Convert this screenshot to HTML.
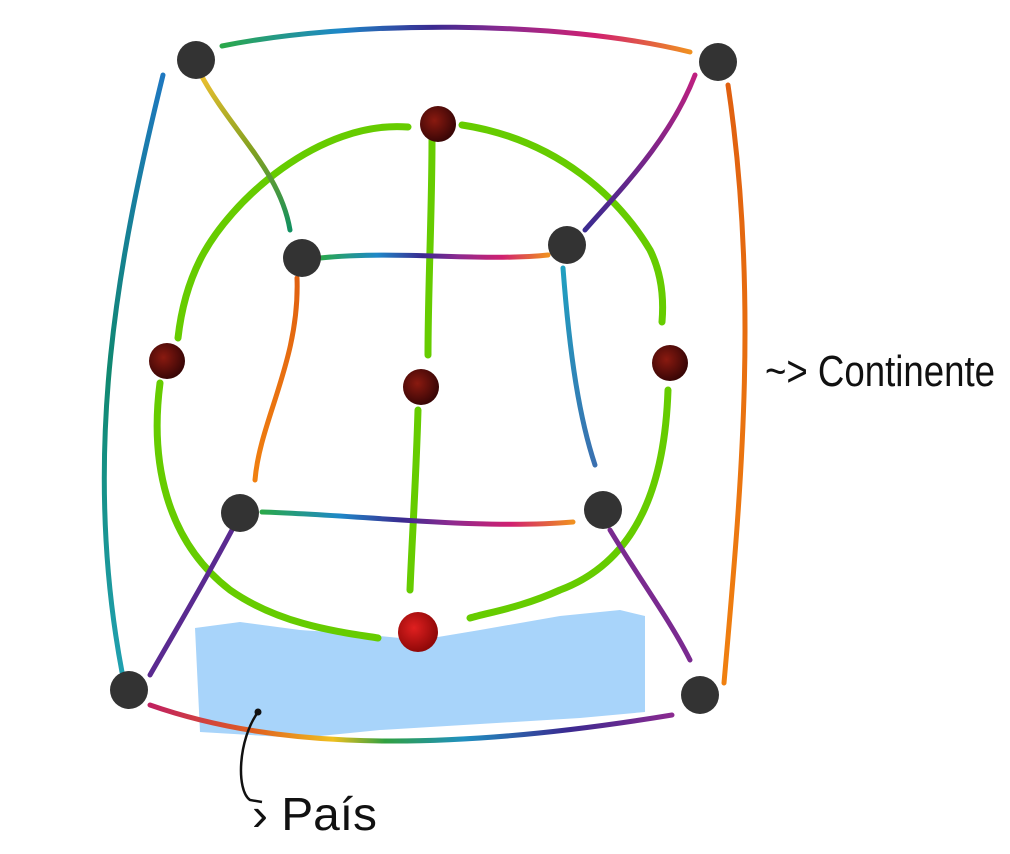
<!DOCTYPE html>
<html><head><meta charset="utf-8">
<style>
html,body{margin:0;padding:0;background:#fff;width:1010px;height:854px;overflow:hidden}
svg{display:block}
</style></head>
<body>
<svg id="s" width="1010" height="854" viewBox="0 0 1010 854" xmlns="http://www.w3.org/2000/svg">
<defs>
<linearGradient id="rb1" x1="0" x2="1" y1="0" y2="0">
<stop offset="0" stop-color="#2aa84a"/><stop offset="0.25" stop-color="#1e88c8"/><stop offset="0.45" stop-color="#3a2a90"/><stop offset="0.6" stop-color="#8a2a90"/><stop offset="0.8" stop-color="#d02070"/><stop offset="1" stop-color="#f09020"/></linearGradient>
<linearGradient id="rb2" x1="0" x2="1" y1="0" y2="0">
<stop offset="0" stop-color="#c02060"/><stop offset="0.2" stop-color="#e06020"/><stop offset="0.35" stop-color="#f0c020"/><stop offset="0.45" stop-color="#30a040"/><stop offset="0.6" stop-color="#2090c0"/><stop offset="0.8" stop-color="#3a2a90"/><stop offset="1" stop-color="#8a2a90"/></linearGradient>
<linearGradient id="rbv" x1="0" x2="0" y1="0" y2="1">
<stop offset="0" stop-color="#1e78c0"/><stop offset="0.5" stop-color="#108870"/><stop offset="1" stop-color="#20a0b0"/></linearGradient>
<linearGradient id="rbd1" x1="0" x2="0" y1="0" y2="1">
<stop offset="0" stop-color="#f0c030"/><stop offset="0.5" stop-color="#80a020"/><stop offset="1" stop-color="#109060"/></linearGradient>
<linearGradient id="rbo" x1="0" x2="0" y1="0" y2="1">
<stop offset="0" stop-color="#e06010"/><stop offset="1" stop-color="#f08010"/></linearGradient>
<linearGradient id="rbp" x1="0" x2="0" y1="0" y2="1">
<stop offset="0" stop-color="#c02080"/><stop offset="1" stop-color="#3a2a90"/></linearGradient>
<linearGradient id="rbb" x1="0" x2="0" y1="0" y2="1">
<stop offset="0" stop-color="#20a0c0"/><stop offset="1" stop-color="#3a70b0"/></linearGradient>
<radialGradient id="red" cx="0.4" cy="0.4" r="0.6"><stop offset="0" stop-color="#8a1a10"/><stop offset="1" stop-color="#3a0606"/></radialGradient>
<radialGradient id="red2" cx="0.4" cy="0.4" r="0.6"><stop offset="0" stop-color="#e02020"/><stop offset="1" stop-color="#900808"/></radialGradient>
</defs>
<path d="M195,628 L240,622 L300,630 L360,634 L420,640 L480,630 L560,616 L620,610 L645,616 L645,712 L580,718 L480,724 L380,730 L300,738 L200,732 Z" fill="#a8d4fa"/>
<g id="lines" fill="none" stroke-linecap="round"></g>
<g id="nodes"></g>
<path d="M258,712 C238,740 236,790 250,800 L262,802" fill="none" stroke="#111" stroke-width="2.5"/>
<circle cx="258" cy="712" r="3.5" fill="#111"/>
<text x="252" y="830" textLength="125" lengthAdjust="spacingAndGlyphs" font-family="Liberation Sans, sans-serif" font-size="46" fill="#111">› País</text>
<text x="765" y="386" textLength="230" lengthAdjust="spacingAndGlyphs" font-family="Liberation Sans, sans-serif" font-size="44" fill="#111">~&gt; Continente</text>
</svg>
<script>
const grayNodes=[[196,60],[718,62],[302,258],[567,245],[240,513],[603,510],[129,690],[700,695]];
const redNodes=[[438,124],[167,361],[670,363],[421,387]];
const greenPaths=["M408,127 C320,120 230,200 200,260 C185,290 180,320 178,338","M462,125 C560,140 620,200 650,250 C665,280 663,310 662,322","M160,383 C150,460 165,540 230,590 C280,625 340,632 378,638","M668,390 C665,480 640,560 560,590 C520,608 490,612 470,618","M432,140 C432,210 428,290 428,355","M418,410 C416,480 412,540 410,590"];
const colorPaths=[["M222,46 C350,20 560,20 690,52","url(#rb1)"],["M163,75 C120,250 80,450 122,672","url(#rbv)"],["M728,85 C760,300 740,500 724,683","url(#rbo)"],["M150,705 C250,740 400,760 672,715","url(#rb2)"],["M200,73 C230,130 280,170 290,230","url(#rbd1)"],["M695,75 C670,140 620,190 585,230","url(#rbp)"],["M232,530 C200,590 170,640 150,675","#5a2a90"],["M610,530 C640,580 670,620 690,660","#7a2a90"],["M320,258 C400,250 480,262 548,255","url(#rb1)"],["M297,278 C300,360 260,420 255,480","url(#rbo)"],["M563,268 C570,360 580,420 595,465","url(#rbb)"],["M262,512 C360,515 480,530 573,522","url(#rb1)"]];
const NS="http://www.w3.org/2000/svg";
const L=document.getElementById('lines'),N=document.getElementById('nodes');
greenPaths.forEach(d=>{const p=document.createElementNS(NS,'path');p.setAttribute('d',d);p.setAttribute('stroke','#66cc00');p.setAttribute('stroke-width','7');


L.appendChild(p);});
colorPaths.forEach(c=>{const p=document.createElementNS(NS,'path');p.setAttribute('d',c[0]);p.setAttribute('stroke',c[1]);p.setAttribute('stroke-width','5');


L.appendChild(p);});
grayNodes.forEach(n=>{const c=document.createElementNS(NS,'circle');c.setAttribute('cx',n[0]);c.setAttribute('cy',n[1]);c.setAttribute('r','19');c.setAttribute('fill','#333');


N.appendChild(c);});
redNodes.forEach(n=>{const c=document.createElementNS(NS,'circle');c.setAttribute('cx',n[0]);c.setAttribute('cy',n[1]);c.setAttribute('r','18');c.setAttribute('fill','url(#red)');


N.appendChild(c);});
const b=document.createElementNS(NS,'circle');b.setAttribute('cx',418);b.setAttribute('cy',632);b.setAttribute('r','20');b.setAttribute('fill','url(#red2)');


N.appendChild(b);
</script>
</body></html>
